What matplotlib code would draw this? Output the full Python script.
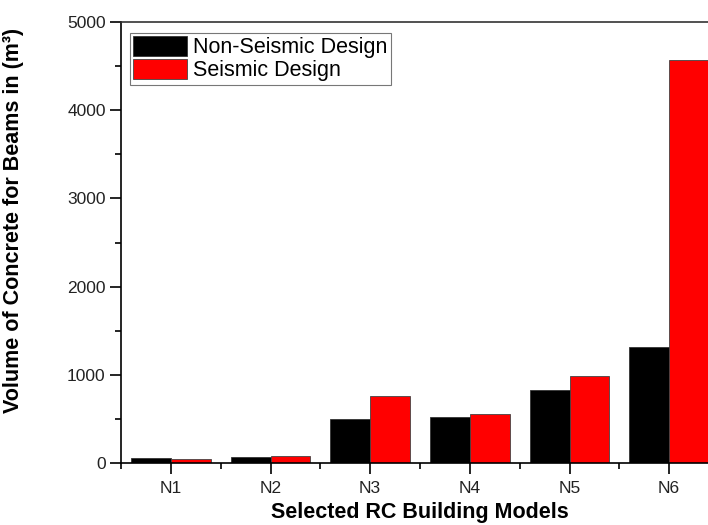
import numpy as np
import matplotlib
matplotlib.use("Agg")
import matplotlib.pyplot as plt
from matplotlib.ticker import MultipleLocator

plt.rcParams['font.family'] = ['Liberation Sans', 'DejaVu Sans']

# volume of concrete for beams (m3) per building model
models = ["N1", "N2", "N3", "N4", "N5", "N6"]
non_seismic = [55, 70, 500, 518, 828, 1319]
seismic = [48, 85, 760, 555, 986, 4570]

fig = plt.figure(figsize=(7.08, 5.25), dpi=100)
ax = fig.add_axes([121/708, 62/525, 598/708, 441/525])

x = np.arange(1, len(models) + 1)
w = 0.4
ax.bar(x - w/2, non_seismic, w, color="black", edgecolor="#333333", linewidth=0.6,
       label="Non-Seismic Design")
ax.bar(x + w/2, seismic, w, color="#ff0000", edgecolor="#444444", linewidth=0.6,
       label="Seismic Design")

ax.set_xlim(0.5, 6.5)
ax.set_ylim(0, 5000)
ax.set_xticks(x)
ax.set_xticklabels(models)
ax.set_xticks(np.arange(0.5, 7, 1), minor=True)
ax.yaxis.set_major_locator(MultipleLocator(1000))
ax.yaxis.set_minor_locator(MultipleLocator(500))

ax.tick_params(axis="both", which="major", direction="out", length=8, width=1.2,
               labelsize=12.5, colors="black", labelcolor="#222222")
ax.tick_params(axis="both", which="minor", direction="out", length=4.5, width=1.2)
ax.tick_params(axis="x", pad=5)
ax.tick_params(axis="y", pad=3)
for side in ["left", "bottom", "top"]:
    ax.spines[side].set_linewidth(1.2)
ax.spines["top"].set_color("#333333")

ax.set_xlabel("Selected RC Building Models", fontsize=15.5, fontweight="bold")
ax.xaxis.set_label_coords(0.5, -0.088)
ax.set_ylabel("Volume of Concrete for Beams in (m³)", fontsize=15.5, fontweight="bold")
ax.yaxis.set_label_coords(-0.162, 0.551)

leg = ax.legend(loc="upper left", bbox_to_anchor=(0.015, 0.975), fontsize=15.5,
                frameon=True, fancybox=False, edgecolor="#555555",
                handlelength=2.5, handleheight=1.0, handletextpad=0.3,
                borderpad=0.15, labelspacing=0.05, borderaxespad=0)
leg.get_frame().set_linewidth(0.8)

fig.savefig("out.png", dpi=100)
